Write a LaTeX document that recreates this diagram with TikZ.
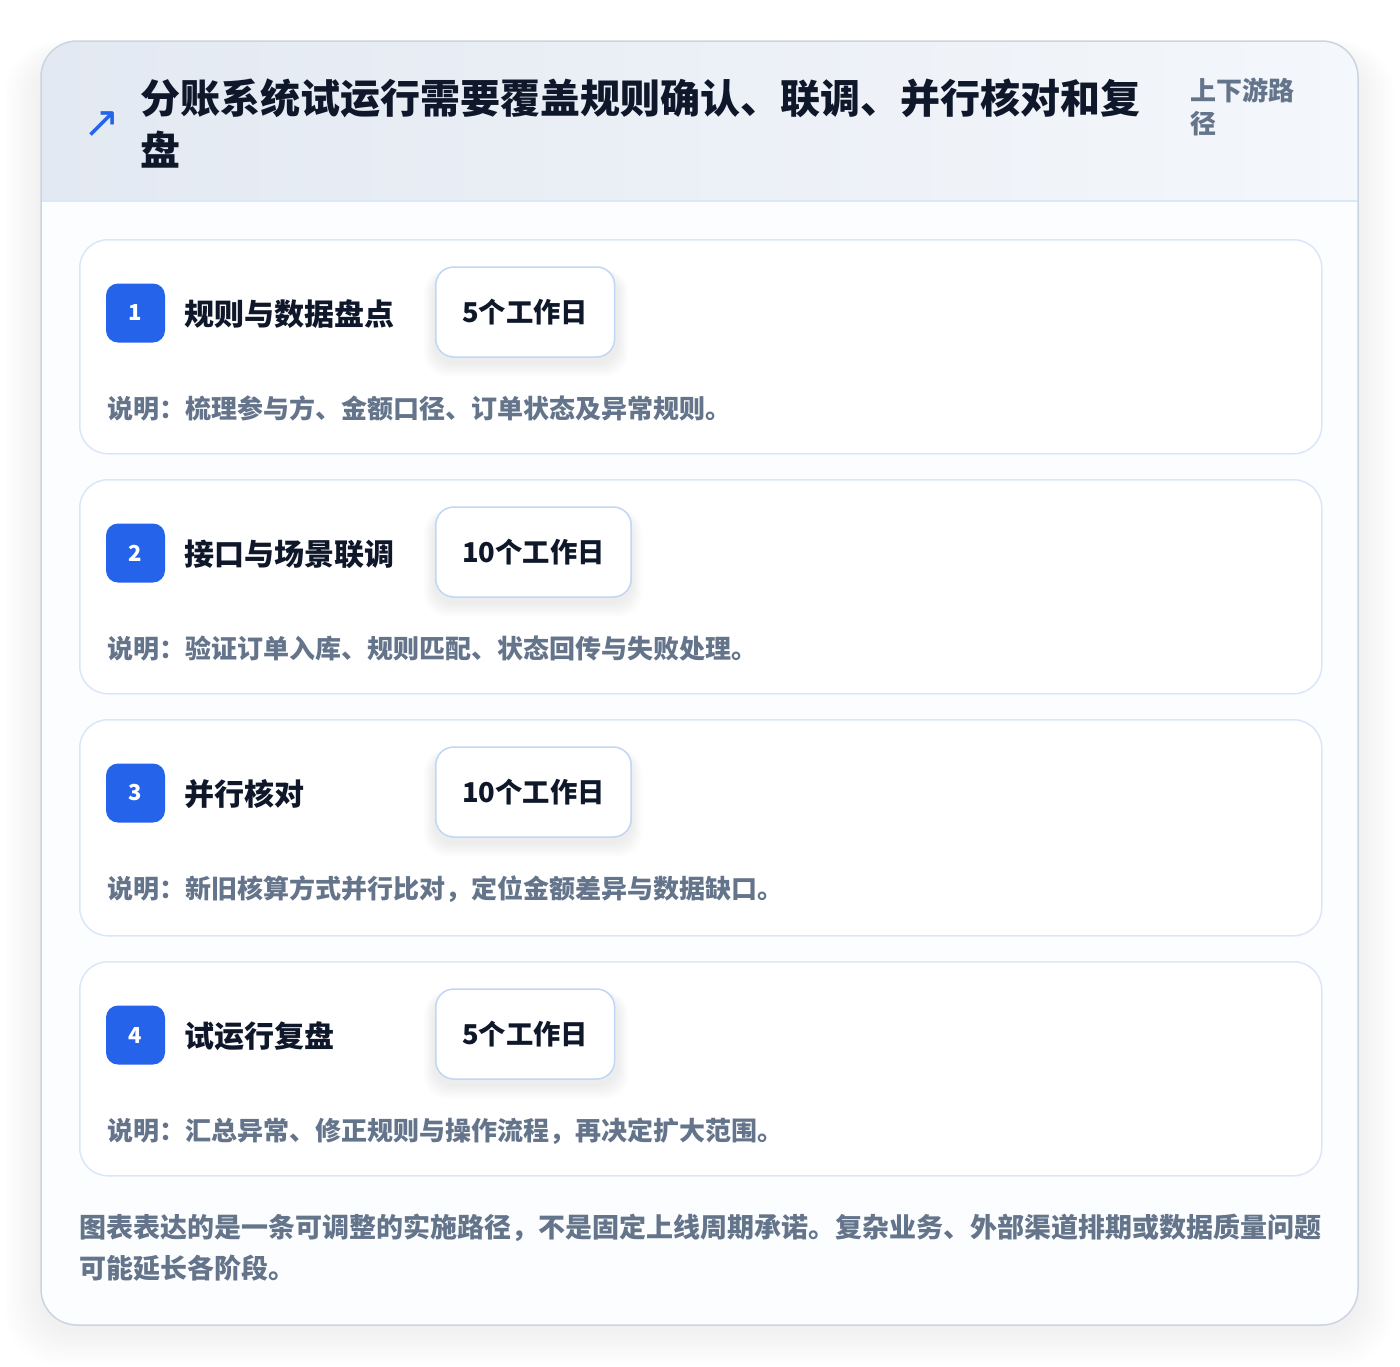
\documentclass[tikz,border=0pt]{standalone}
\usepackage{fontspec}
\setmainfont{Noto Sans CJK SC}
\newfontfamily\symfont{DejaVu Sans}
\definecolor{ink}{HTML}{0F172A}
\definecolor{muted}{HTML}{64748B}
\definecolor{accent}{HTML}{2563EB}
\definecolor{cardline}{HTML}{DBE7F8}
\definecolor{durline}{HTML}{BFD6F6}
\definecolor{outerline}{HTML}{CBD5E1}
\definecolor{hdrL}{HTML}{E3E9F2}
\definecolor{hdrR}{HTML}{F4F7FB}
\definecolor{hdrline}{HTML}{DBE7F8}
\definecolor{bodybg}{HTML}{FCFDFE}
\tikzset{
  card/.style={draw=cardline, fill=white, rounded corners=28pt, line width=1.5pt,
    minimum width=1242pt, anchor=north west, inner sep=0pt},
  badge/.style={fill=accent, text=white, rounded corners=12pt, minimum size=59pt, inner sep=0pt,
    font=\fontsize{22}{22}\selectfont\bfseries},
  steptitle/.style={anchor=base west, text=ink, inner sep=0pt, font=\fontsize{30}{36}\selectfont\bfseries},
  dur/.style={draw=durline, fill=white, rounded corners=18pt, minimum height=90pt, inner xsep=26.5pt,
    anchor=west, line width=1.5pt, text=ink, font=\fontsize{27.3}{28}\selectfont\bfseries},
  durshadow/.style={fill=black, opacity=0.012, rounded corners=22pt},
  desc/.style={anchor=base west, inner sep=0pt, text=muted, font=\fontsize{26}{30}\selectfont\bfseries},
  title/.style={anchor=base west, inner sep=0pt, text=ink, font=\fontsize{40}{52}\selectfont\bfseries},
  side/.style={anchor=base west, inner sep=0pt, text=muted, font=\fontsize{26}{33}\selectfont\bfseries},
  foot/.style={anchor=base west, inner sep=0pt, text=muted, font=\fontsize{27}{41}\selectfont\bfseries},
}
\begin{document}
\begin{tikzpicture}[x=1pt,y=-1pt]
\useasboundingbox (0,0) rectangle (1400,1366);
\fill[white] (0,0) rectangle (1400,1366);
% outer shadow
\foreach \i in {1,...,14}{
  \fill[black, opacity=0.0055, rounded corners=40pt+\i pt]
    (41-\i*2.6,41+14-\i*1.0) rectangle (1358+\i*2.6,1325+6+\i*2.4);
}
% outer card
\begin{scope}
  \clip[rounded corners=36pt] (41,41) rectangle (1358,1325);
  \fill[bodybg] (41,41) rectangle (1358,1325);
  \shade[left color=hdrL, right color=hdrR] (41,41) rectangle (1358,201);
\end{scope}
\draw[hdrline, line width=1.5pt] (41,201) -- (1358,201);
\draw[outerline, line width=1.5pt, rounded corners=36pt] (41,41) rectangle (1358,1325);

% header
\node[text=accent, inner sep=0pt, font=\symfont\fontsize{44}{44}\selectfont] (icon) at (102,125) {↗};
\node[title] (t1) at (140,113) {分账系统试运行需要覆盖规则确认、联调、并行核对和复};
\node[title] (t2) at (140,165) {盘};
\node[side] (s1) at (1190,100) {上下游路};
\node[side] (s2) at (1190,133) {径};

% step cards
\node[card, minimum height=214pt] (c1) at (79,239) {};
\node[card, minimum height=214pt] (c2) at (79,479) {};
\node[card, minimum height=216pt] (c3) at (79,719) {};
\node[card, minimum height=214pt] (c4) at (79,961) {};

% duration shadows
\foreach \y/\w in {312/182,552/196,792/196,1034/182}{
  \foreach \k in {1,...,6}{
    \fill[durshadow] (435-\k*1.8,\y-45+6-\k*0.5) rectangle (435+\w+\k*1.8,\y+45+6+\k*2.2);
  }
}

% step 1
\node[badge] (b1) at (135.5,313) {1};
\node[steptitle] (n1) at (184,325) {规则与数据盘点};
\node[dur] (d1) at (435,312) {5个工作日};
\node[desc] (e1) at (107,418) {说明：梳理参与方、金额口径、订单状态及异常规则。};
% step 2
\node[badge] (b2) at (135.5,553) {2};
\node[steptitle] (n2) at (184,565) {接口与场景联调};
\node[dur] (d2) at (435,552) {10个工作日};
\node[desc] (e2) at (107,658) {说明：验证订单入库、规则匹配、状态回传与失败处理。};
% step 3
\node[badge] (b3) at (135.5,793) {3};
\node[steptitle] (n3) at (184,805) {并行核对};
\node[dur] (d3) at (435,792) {10个工作日};
\node[desc] (e3) at (107,898) {说明：新旧核算方式并行比对，定位金额差异与数据缺口。};
% step 4
\node[badge] (b4) at (135.5,1035) {4};
\node[steptitle] (n4) at (184,1047) {试运行复盘};
\node[dur] (d4) at (435,1034) {5个工作日};
\node[desc] (e4) at (107,1140) {说明：汇总异常、修正规则与操作流程，再决定扩大范围。};

% footer
\node[foot] (f1) at (79,1237) {图表表达的是一条可调整的实施路径，不是固定上线周期承诺。复杂业务、外部渠道排期或数据质量问题};
\node[foot] (f2) at (79,1278) {可能延长各阶段。};
\end{tikzpicture}
\end{document}
